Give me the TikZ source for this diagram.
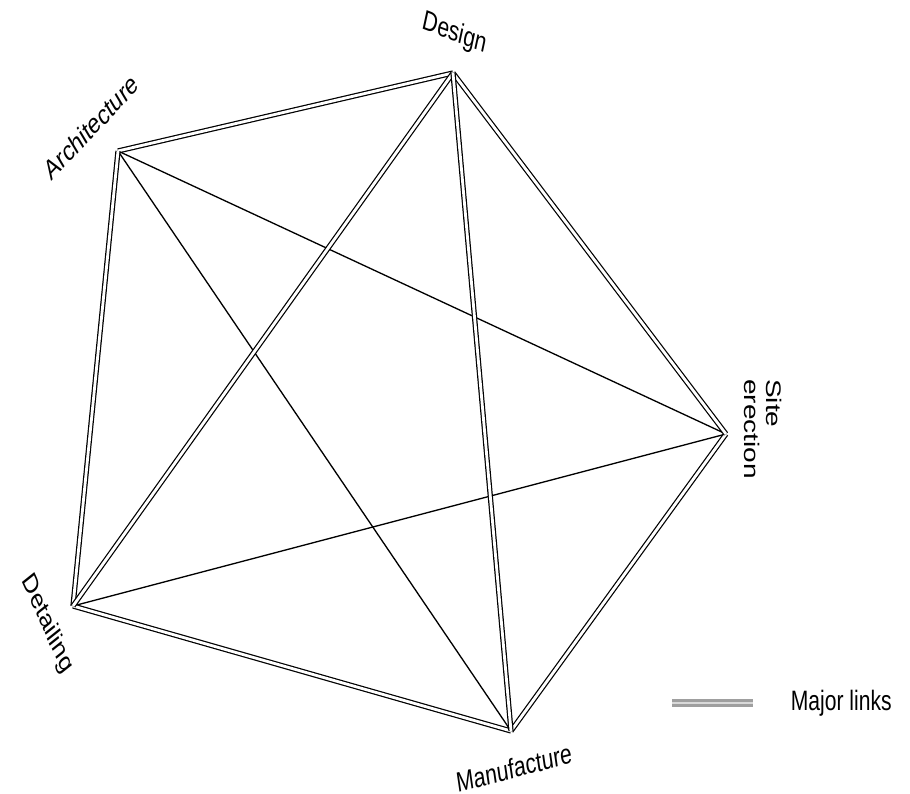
\documentclass[tikz,border=0pt]{standalone}
\usepackage{fontspec}
\setmainfont{Liberation Sans}
\usetikzlibrary{positioning}

\begin{document}
\begin{tikzpicture}[
        major/.style={draw, double, double distance=1.6pt, line width=0.7pt},
        minor/.style={draw, line width=0.75pt},
        lbl/.style={font=\fontsize{12}{13}\selectfont, inner sep=0pt, align=left, yscale=1.33}
    ]
    \useasboundingbox (0,0) rectangle (18.2,15.88);

    % corners of the pentagon
    \coordinate (des) at (9.06,14.42);
    \coordinate (arch) at (2.36,12.86);
    \coordinate (det) at (1.46,3.76);
    \coordinate (man) at (10.22,1.26);
    \coordinate (site) at (14.52,7.20);

    % labels
    \coordinate (pdes) at (9.10,15.20);
    \coordinate (parch) at (1.82,13.34);
    \coordinate (pdet) at (0.94,3.40);
    \coordinate (pman) at (10.28,0.52);
    \coordinate (psite) at (15.26,7.30);
    \node[lbl, rotate=-16] (ldes) at (pdes) {Design};
    \node[lbl, rotate=38.5] (larch) at (parch) {Architecture};
    \node[lbl, rotate=-59] (ldet) at (pdet) {Detailing};
    \node[lbl, rotate=11] (lman) at (pman) {Manufacture};
    \node[lbl, rotate=-90] (lsite) at (psite) {Site\\erection};

    % single links
    \draw[minor] (arch) -- (site);
    \draw[minor] (arch) -- (man);
    \draw[minor] (det) -- (site);

    % major links
    \draw[major] (des) -- (arch);
    \draw[major] (arch) -- (det);
    \draw[major] (det) -- (man);
    \draw[major] (man) -- (site);
    \draw[major] (site) -- (des);
    \draw[major] (des) -- (det);
    \draw[major] (des) -- (man);

    % legend
    \coordinate (k1) at (13.44,1.82);
    \coordinate (k2) at (15.06,1.82);
    \draw[major, draw=gray!75, double=gray!30, line width=1.6pt, double distance=1pt] (k1) -- (k2);
    \node[lbl, anchor=west, right=0.75cm of k2] (lkey) {Major links};
\end{tikzpicture}
\end{document}
